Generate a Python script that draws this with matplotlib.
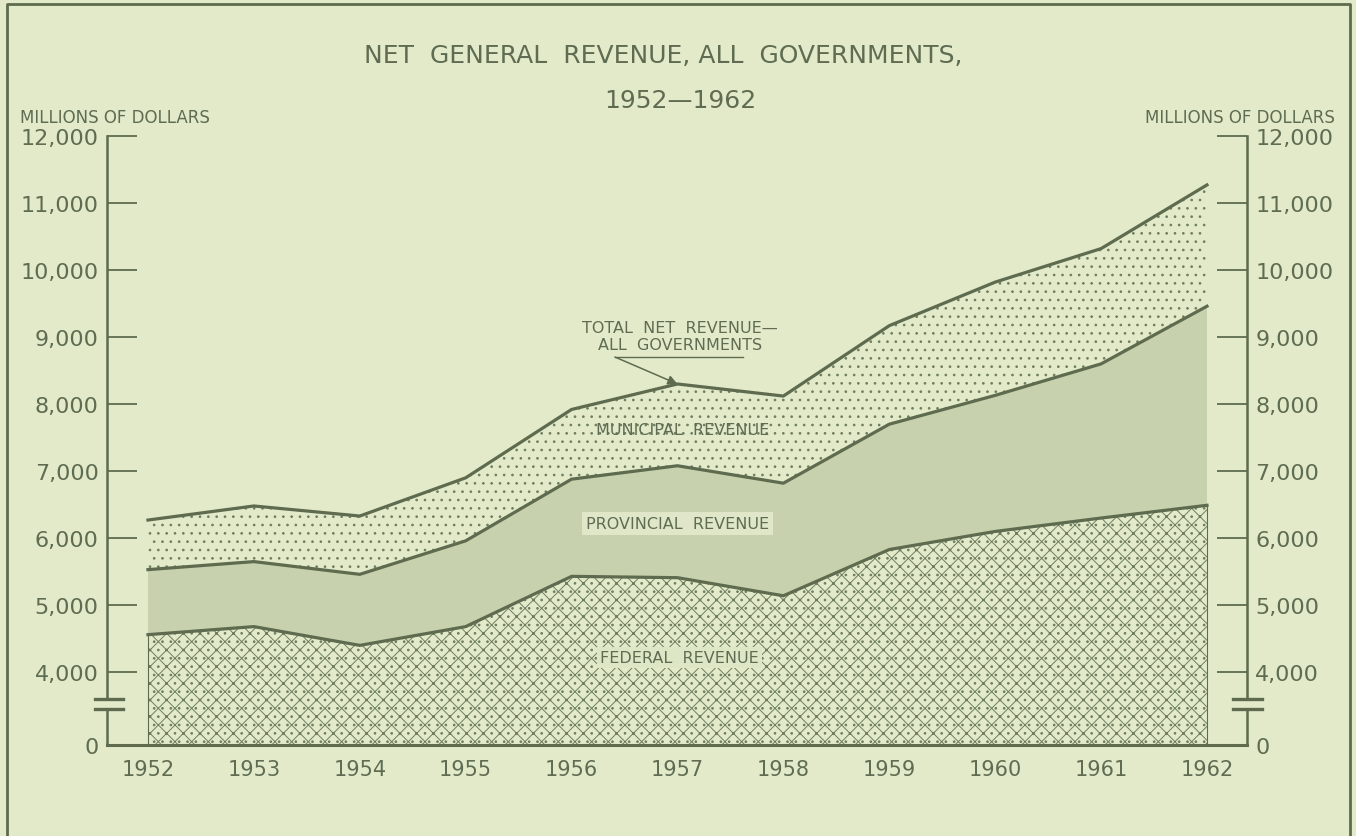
import matplotlib.pyplot as plt
import numpy as np
from matplotlib.lines import Line2D
from matplotlib.ticker import FuncFormatter

# 数据 (百万美元)
years = [1952, 1953, 1954, 1955, 1956, 1957, 1958, 1959, 1960, 1961, 1962]
federal = [4560, 4680, 4400, 4680, 5430, 5410, 5140, 5830, 6100, 6300, 6490]
provincial = [970, 970, 1060, 1280, 1450, 1670, 1680, 1870, 2030, 2300, 2970]
municipal = [740, 830, 870, 940, 1040, 1220, 1300, 1470, 1690, 1720, 1810]
y_ticks = [0, 4000, 5000, 6000, 7000, 8000, 9000, 10000, 11000, 12000]

BG = "#e2eaca"
PROV = "#c7d1ae"
DARK = "#5e6b4e"
TEXT = "#5f6c52"

plt.rcParams["font.family"] = ["DejaVu Sans"]
plt.rcParams["hatch.color"] = "#6f7d5f"
plt.rcParams["hatch.linewidth"] = 0.7

# 断轴: 0~4000 压缩显示
GAP = 73 / 67.2


def fwd(v):
    v = np.asarray(v, dtype=float)
    return np.where(v < 4000, v / 4000 * GAP, GAP + (v - 4000) / 1000)


def inv(u):
    u = np.asarray(u, dtype=float)
    return np.where(u < GAP, u / GAP * 4000, 4000 + (u - GAP) * 1000)


x = np.array(years)
fed_top = np.array(federal)
prov_top = fed_top + np.array(provincial)
total = prov_top + np.array(municipal)

fig = plt.figure(figsize=(13.56, 8.37), dpi=100, facecolor=BG)
ax = fig.add_axes([107 / 1356, 91 / 837, 1140 / 1356, 609 / 837])
ax.set_facecolor(BG)
ax.set_yscale("function", functions=(fwd, inv))

# 三层面积
ax.fill_between(x, 0, fed_top, facecolor=BG, edgecolor="#6f7d5f",
                linewidth=0, hatch="xx..")
ax.fill_between(x, fed_top, prov_top, facecolor=PROV, linewidth=0)
ax.fill_between(x, prov_top, total, facecolor=BG, edgecolor="#6f7d5f",
                linewidth=0, hatch="..")

for top in (fed_top, prov_top, total):
    ax.plot(x, top, color=DARK, lw=2.3, solid_joinstyle="round")
ax.plot([x[0], x[0]], [0, fed_top[0]], color=DARK, lw=0.8)
ax.plot([x[-1], x[-1]], [0, fed_top[-1]], color=DARK, lw=0.8)

ax.set_xlim(1951.613, 1962.378)
ax.set_ylim(0, 12000)

# 坐标轴
for side in ("top", "left", "right"):
    ax.spines[side].set_visible(False)
ax.spines["bottom"].set_color(DARK)
ax.spines["bottom"].set_linewidth(2.2)

ax.set_xticks(years)
ax.tick_params(axis="x", length=0, pad=10, labelsize=15, labelcolor=TEXT)
ax.set_yticks(y_ticks)
ax.yaxis.set_major_formatter(FuncFormatter(lambda v, p: f"{v:,.0f}"))
ax.tick_params(axis="y", direction="in", length=21.5, width=1.3, color=DARK,
               left=True, right=True, labelleft=True, labelright=True,
               pad=6, labelsize=16, labelcolor=TEXT)

# 断轴线和断点标记
ytr = ax.get_yaxis_transform()
for xa, lo, hi in ((0, -12 / 1140, 16 / 1140), (1, 1 - 14 / 1140, 1 + 15 / 1140)):
    ax.plot([xa, xa], [0, 1973], color=DARK, lw=1.8, transform=ytr, clip_on=False)
    ax.plot([xa, xa], [2520, 12000], color=DARK, lw=1.8, transform=ytr, clip_on=False)
    for yb in (1973, 2520):
        ax.plot([lo, hi], [yb, yb], color=DARK, lw=2.4, transform=ytr, clip_on=False)

# 区域标注
lab = dict(ha="center", va="center", fontsize=11.5, color=TEXT)
ax.text(1957.05, 7616, "MUNICIPAL  REVENUE", **lab)
ax.text(1957.0, 6217, "PROVINCIAL  REVENUE",
        bbox=dict(boxstyle="square,pad=0.25", facecolor="#dfe7c8", edgecolor="none"), **lab)
ax.text(1957.02, 4223, "FEDERAL  REVENUE",
        bbox=dict(boxstyle="square,pad=0.2", facecolor="#dde6c5", edgecolor="none"), **lab)
ax.text(1957.02, 9015, "TOTAL  NET  REVENUE—\nALL  GOVERNMENTS", linespacing=1.2, **lab)
ax.plot([1956.41, 1957.62], [8702, 8702], color=DARK, lw=1)
ax.annotate("", xy=(x[5], total[5]), xytext=(1956.41, 8702),
            arrowprops=dict(arrowstyle="-|>", color=DARK, lw=1.1, mutation_scale=14,
                            shrinkA=0, shrinkB=0))

# 标题和单位
fig.text(663 / 1356, 1 - 56 / 837, "NET  GENERAL  REVENUE, ALL  GOVERNMENTS,",
         ha="center", va="center", fontsize=18, color=TEXT)
fig.text(680 / 1356, 1 - 101 / 837, "1952—1962",
         ha="center", va="center", fontsize=18, color=TEXT)
fig.text(20 / 1356, 1 - 118 / 837, "MILLIONS OF DOLLARS",
         ha="left", va="center", fontsize=12, color=TEXT)
fig.text(1335 / 1356, 1 - 118 / 837, "MILLIONS OF DOLLARS",
         ha="right", va="center", fontsize=12, color=TEXT)

# 外框
fx = [7 / 1356, 7 / 1356, 1350 / 1356, 1350 / 1356]
fy = [0, 1 - 5 / 837, 1 - 5 / 837, 0]
fig.add_artist(Line2D(fx, fy, color=DARK, lw=2, transform=fig.transFigure))

fig.savefig("out.png", dpi=100, facecolor=BG)
